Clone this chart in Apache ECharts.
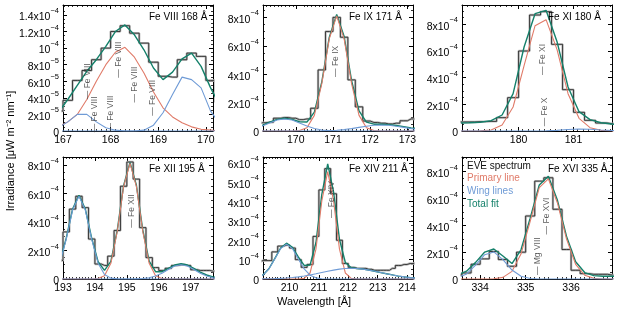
<!DOCTYPE html>
<html><head><meta charset="utf-8">
<script src="https://cdn.jsdelivr.net/npm/echarts@6/dist/echarts.min.js"></script>
<style>html,body{margin:0;padding:0;background:#fff}#c{width:629px;height:314px}</style>
</head><body><div id="c"></div>
<script>
// All irradiance values in units of 1e-4 (μW m^-2 nm^-1 axis as in the reference)
// ---- Panel 1: Fe VIII 168 Å ----
const wl1 = [166.9,167.1,167.3,167.5,167.7,167.9,168.1,168.3,168.5,168.7,168.9,169.1,169.3,169.5,169.7,169.9,170.1,170.3];
const spec1 = [0.24,0.37,0.61,0.73,0.86,1.0,1.2,1.27,1.18,1.06,0.83,0.66,0.65,0.86,0.94,0.9,0.61,0.35];
const fit1 = [0.22,0.38,0.55,0.72,0.86,1.02,1.2,1.28,1.16,0.98,0.76,0.62,0.71,0.87,0.94,0.78,0.52,0.3];
const prim1 = [0.05,0.11,0.2,0.38,0.6,0.8,0.95,1.01,0.89,0.7,0.47,0.28,0.17,0.1,0.05,0.02,0.01,0];
const wing1a = [0.04,0.11,0.2,0.2,0.11,0.04,0.01,0,0,0,0,0,0,0,0,0,0,0];
const wing1b = [0,0,0,0,0,0,0,0,0,0.01,0.07,0.22,0.44,0.65,0.62,0.52,0.24,0.08];
const lab1 = [[167.52,0.60,'— Fe VIII'],[167.67,0.20,'— Fe VIII'],[168.0,0.21,'— Fe VIII'],[168.17,0.86,'— Fe VIII'],[168.51,0.56,'— Fe VIII'],[168.88,0.40,'— Fe VIII']];
const xt1 = [167,168,169,170];
const yt1 = [0,0.2,0.4,0.6,0.8,1.0,1.2,1.4];

// ---- Panel 2: Fe IX 171 Å ----
const wl2 = [168.9,169.1,169.3,169.5,169.7,169.9,170.1,170.3,170.5,170.7,170.9,171.1,171.3,171.5,171.7,171.9,172.1,172.3,172.5,172.7,172.9,173.1,173.3];
const spec2 = [0.55,0.58,0.62,0.9,0.95,0.9,0.8,0.85,1.6,4.3,7.0,8.0,6.6,3.6,1.7,0.7,0.6,0.55,0.5,0.55,0.72,0.85,0.9];
const fit2 = [0.23,0.40,0.62,0.82,0.90,0.82,0.65,0.63,1.33,3.46,6.59,8.21,6.65,3.55,1.41,0.62,0.48,0.47,0.45,0.39,0.31,0.22,0.16];
const prim2 = [0,0,0,0,0,0,0.03,0.23,1.1,3.33,6.49,8.1,6.49,3.33,1.1,0.23,0.03,0,0,0,0,0,0];
const wing2a = [0.175,0.35,0.57,0.77,0.85,0.77,0.57,0.35,0.175,0.07,0.024,0.006,0,0,0,0,0,0,0,0,0,0,0];
const wing2b = [0,0,0,0,0,0,0,0.003,0.005,0.012,0.028,0.057,0.105,0.17,0.255,0.336,0.40,0.42,0.40,0.336,0.255,0.17,0.105];
const lab2 = [[171.07,4.9,'— Fe IX']];
const xt2 = [170,171,172,173];
const yt2 = [0,2,4,6,8];

// ---- Panel 3: Fe XI 180 Å ----
const wl3 = [178.9,179.1,179.3,179.5,179.7,179.9,180.1,180.3,180.5,180.7,180.9,181.1,181.3,181.5,181.7,181.9];
const spec3 = [0.68,0.68,0.70,0.72,1.0,2.5,6.0,8.7,8.95,6.5,3.1,1.4,0.8,0.6,0.55,0.5];
const fit3 = [0.6,0.62,0.66,0.78,1.2,2.8,6.3,8.8,9.05,6.7,3.3,1.45,0.85,0.62,0.52,0.45];
const prim3 = [0,0,0.01,0.08,0.45,1.8,4.9,7.9,8.35,6.1,2.8,0.95,0.25,0.05,0.01,0];
const wing3 = [0,0,0,0,0,0,0,0,0.01,0.05,0.11,0.15,0.13,0.08,0.04,0.02];
const lab3 = [[180.44,5.36,'— Fe XI'],[180.47,1.43,'— Fe X']];
const xt3 = [180,181];
const yt3 = [0,2,4,6,8];

// ---- Panel 4: Fe XII 195 Å ----
const wl4 = [192.9,193.1,193.3,193.5,193.7,193.9,194.1,194.3,194.5,194.7,194.9,195.1,195.3,195.5,195.7,195.9,196.1,196.3,196.5,196.7,196.9,197.1,197.3,197.5,197.7,197.9];
const spec4 = [1.3,3.3,4.9,5.8,5.0,2.8,1.05,0.95,1.6,3.4,6.5,8.2,7.0,3.6,1.5,0.8,0.6,0.75,0.95,1.0,0.95,0.65,0.6,0.6,0.55,0.55];
const fit4 = [1.18,2.85,4.9,5.87,4.9,2.85,1.21,0.61,1.23,3.41,6.56,8.17,6.57,3.43,1.26,0.51,0.51,0.74,0.98,1.07,0.98,0.74,0.48,0.28,0.15,0.1];
const prim4 = [0,0,0,0,0,0,0.03,0.23,1.10,3.33,6.49,8.1,6.49,3.33,1.10,0.23,0.03,0,0,0,0,0,0,0,0,0];
const wing4a = [1.11,2.78,4.83,5.8,4.83,2.78,1.11,0.31,0.06,0.01,0,0,0,0,0,0,0,0,0,0,0,0,0,0,0,0];
const wing4b = [0,0,0,0,0,0,0,0,0,0,0,0,0.01,0.03,0.085,0.21,0.41,0.67,0.91,1.0,0.91,0.67,0.41,0.21,0.085,0.03];
const lab4 = [[195.16,4.76,'— Fe XII']];
const xt4 = [193,194,195,196,197];
const yt4 = [0,2,4,6,8];

// ---- Panel 5: Fe XIV 211 Å ----
const wl5 = [208.9,209.1,209.3,209.5,209.7,209.9,210.1,210.3,210.5,210.7,210.9,211.1,211.3,211.5,211.7,211.9,212.1,212.3,212.5,212.7,212.9,213.1,213.3,213.5,213.7,213.9,214.1,214.3];
const spec5 = [0.9,0.95,0.95,1.4,1.7,1.75,1.6,1.0,0.6,0.75,2.2,4.6,5.7,4.4,2.0,0.8,0.6,0.55,0.55,0.5,0.45,0.45,0.45,0.55,0.7,0.75,0.8,0.8];
const fit5 = [0.07,0.21,0.53,1.05,1.6,1.85,1.64,1.14,0.70,0.72,1.87,4.37,5.95,4.49,2.05,0.85,0.58,0.54,0.51,0.46,0.40,0.33,0.27,0.21,0.15,0.11,0.07,0.05];
const prim5 = [0,0,0,0,0,0,0,0,0.03,0.31,1.54,4.03,5.55,4.03,1.54,0.31,0.03,0,0,0,0,0,0,0,0,0,0,0];
const wing5a = [0.06,0.2,0.52,1.03,1.57,1.8,1.57,1.03,0.52,0.2,0.06,0.01,0,0,0,0,0,0,0,0,0,0,0,0,0,0,0,0];
const wing5b = [0.003,0.006,0.012,0.019,0.03,0.049,0.074,0.109,0.153,0.206,0.268,0.334,0.4,0.46,0.508,0.539,0.55,0.539,0.508,0.46,0.4,0.334,0.268,0.206,0.153,0.109,0.074,0.049];
const lab5 = [[211.42,4.1,'— Fe XIV']];
const xt5 = [210,211,212,213,214];
const yt5 = [0,1,2,3,4,5,6];

// ---- Panel 6: Fe XVI 335 Å ----
const wl6 = [333.5,333.7,333.9,334.1,334.3,334.5,334.7,334.9,335.1,335.3,335.5,335.7,335.9,336.1,336.3,336.5,336.7,336.9,337.1];
const spec6 = [0.3,0.45,1.1,1.5,2.05,1.45,0.95,2.0,4.7,7.3,7.55,5.2,2.2,0.65,0.4,0.35,0.35,0.3,0.3];
const fit6 = [0.29,0.58,1.24,2.01,2.24,1.72,1.15,2.2,4.54,7.02,7.67,5.87,3.18,1.29,0.48,0.25,0.21,0.2,0.2];
const prim6 = [0,0,0,0,0.02,0.12,0.57,1.89,4.3,6.81,7.47,5.67,2.98,1.09,0.28,0.05,0.005,0,0];
const wing6 = [0.09,0.38,1.04,1.81,2.02,1.45,0.67,0.2,0.04,0.005,0,0,0,0,0,0,0,0,0];
const lab6 = [[335.47,4.7,'— Fe XVI'],[335.27,1.7,'— Mg VIII']];
const xt6 = [334,335,336];
const yt6 = [0,2,4,6,8];

const titles = ['Fe VIII 168 Å','Fe IX 171 Å','Fe XI 180 Å','Fe XII 195 Å','Fe XIV 211 Å','Fe XVI 335 Å'];
const legendNames = ['EVE spectrum','Primary line','Wing lines','Total fit'];

const panels = [
  {wl:wl1, spec:spec1, fit:fit1, prim:prim1, wings:[wing1a,wing1b], labs:lab1, xt:xt1, yt:yt1, xmin:167, xmax:170.15, ymax:1.52, yint:0.2},
  {wl:wl2, spec:spec2, fit:fit2, prim:prim2, wings:[wing2a,wing2b], labs:lab2, xt:xt2, yt:yt2, xmin:169.12, xmax:173.15, ymax:8.87, yint:2},
  {wl:wl3, spec:spec3, fit:fit3, prim:prim3, wings:[wing3], labs:lab3, xt:xt3, yt:yt3, xmin:178.97, xmax:181.7, ymax:9.45, yint:2},
  {wl:wl4, spec:spec4, fit:fit4, prim:prim4, wings:[wing4a,wing4b], labs:lab4, xt:xt4, yt:yt4, xmin:193, xmax:197.7, ymax:8.55, yint:2},
  {wl:wl5, spec:spec5, fit:fit5, prim:prim5, wings:[wing5a,wing5b], labs:lab5, xt:xt5, yt:yt5, xmin:209.1, xmax:214.2, ymax:6.3, yint:1},
  {wl:wl6, spec:spec6, fit:fit6, prim:prim6, wings:[wing6], labs:lab6, xt:xt6, yt:yt6, xmin:333.6, xmax:336.9, ymax:9.1, yint:2}
];

const FONT = "'Liberation Sans', Arial, Helvetica, sans-serif";
const C_PRIM = '#e07b69', C_WING = '#6f9bd6', C_FIT = '#14806a';

function yFmt(v){
  const r = Math.round(v*1000)/1000;
  if (r === 0) return '{b|0}';
  if (r === 1) return '{b|10}{s|−4}';
  if (r < 1) return '{b|' + Math.round(r*10) + 'x10}{s|−5}';
  return '{b|' + (Math.abs(r - Math.round(r)) < 1e-6 ? String(Math.round(r)) : r.toFixed(1)) + 'x10}{s|−4}';
}
const yRich = {
  b:{fontSize:10.5, fontFamily:FONT, color:'#000', lineHeight:16, verticalAlign:'bottom'},
  s:{fontSize:7.5, fontFamily:FONT, color:'#000', lineHeight:8, verticalAlign:'top'}
};

const cols = [63, 263, 462];
const rows = [{top:5, h:126}, {top:157, h:122}];
const grids = [], xAxes = [], yAxes = [], series = [], graphics = [];

panels.forEach((p, i) => {
  const r = rows[Math.floor(i/3)], left = cols[i%3];
  grids.push({left:left, top:r.top, width:150, height:r.h, containLabel:false, outerBoundsMode:'none'});
  ['bottom','top'].forEach(pos => {
    xAxes.push({
      gridIndex:i, type:'value', position:pos, min:p.xmin, max:p.xmax, interval:1,
      axisLine:{show:true, onZero:false, lineStyle:{color:'#000', width:1}},
      axisTick:{show:true, inside:true, length:4, customValues:p.xt, lineStyle:{color:'#000', width:1}},
      minorTick:{show:true, splitNumber:10, length:2, lineStyle:{color:'#000', width:0.8}},
      axisLabel:{show:pos==='bottom', customValues:p.xt, margin:4, fontSize:10.5, color:'#000', fontFamily:FONT},
      splitLine:{show:false}, minorSplitLine:{show:false}
    });
  });
  ['left','right'].forEach(pos => {
    yAxes.push({
      gridIndex:i, type:'value', position:pos, min:0, max:p.ymax, interval:p.yint,
      axisLine:{show:true, onZero:false, lineStyle:{color:'#000', width:1}},
      axisTick:{show:true, inside:true, length:4, customValues:p.yt, lineStyle:{color:'#000', width:1}},
      minorTick:{show:true, splitNumber:4, length:2, lineStyle:{color:'#000', width:0.8}},
      axisLabel:{show:pos==='left', customValues:p.yt, margin:4, color:'#000', fontFamily:FONT, formatter:yFmt, rich:yRich},
      splitLine:{show:false}, minorSplitLine:{show:false}
    });
  });
  const xi = 2*i, yi = 2*i;
  const pts = arr => p.wl.map((x,k) => [x, arr[k]]);
  const base = {type:'line', xAxisIndex:xi, yAxisIndex:yi, symbol:'none', silent:true, animation:false};
  series.push(Object.assign({}, base, {data:pts(p.spec), step:'middle', lineStyle:{color:'#bdbdbd', width:2.4}, z:1}));
  series.push(Object.assign({}, base, {data:pts(p.spec), step:'middle', lineStyle:{color:'#1a1a1a', width:0.8}, z:2}));
  series.push(Object.assign({}, base, {data:pts(p.fit), lineStyle:{color:C_FIT, width:1.4}, z:3}));
  series.push(Object.assign({}, base, {data:pts(p.prim), lineStyle:{color:C_PRIM, width:1.1}, z:4}));
  p.wings.forEach(w => series.push(Object.assign({}, base, {data:pts(w), lineStyle:{color:C_WING, width:1.1}, z:4})));
  series.push({
    type:'scatter', xAxisIndex:xi, yAxisIndex:yi, data:p.labs, symbolSize:1, silent:true, animation:false,
    itemStyle:{color:'rgba(0,0,0,0)'}, z:6,
    label:{show:true, position:'inside', rotate:90, formatter:q => q.value[2], fontSize:8.5, color:'#333', fontFamily:FONT}
  });
  graphics.push({type:'text', x:left+86, y:r.top+12, z:10,
    style:{text:titles[i], fill:'#000', font:'10px '+FONT, align:'left', verticalAlign:'middle', textAlign:'left', textVerticalAlign:'middle'}});
});

const legColors = ['#111', C_PRIM, C_WING, C_FIT];
legendNames.forEach((n, k) => {
  graphics.push({type:'text', x:467, y:166 + k*12.7, z:10,
    style:{text:n, fill:legColors[k], font:'10px '+FONT, align:'left', verticalAlign:'middle', textAlign:'left', textVerticalAlign:'middle'}});
});
graphics.push({type:'text', x:11, y:151, rotation:Math.PI/2, z:10,
  style:{text:'Irradiance [μW m⁻² nm⁻¹]', fill:'#000', font:'11px '+FONT, align:'center', verticalAlign:'middle', textAlign:'center', textVerticalAlign:'middle'}});
graphics.push({type:'text', x:314, y:302, z:10,
  style:{text:'Wavelength [Å]', fill:'#000', font:'11px '+FONT, align:'center', verticalAlign:'middle', textAlign:'center', textVerticalAlign:'middle'}});

const chart = echarts.init(document.getElementById('c'), null, {renderer:'canvas'});
chart.setOption({
  animation:false, backgroundColor:'#fff',
  grid:grids, xAxis:xAxes, yAxis:yAxes, series:series, graphic:graphics
});
</script></body></html>
